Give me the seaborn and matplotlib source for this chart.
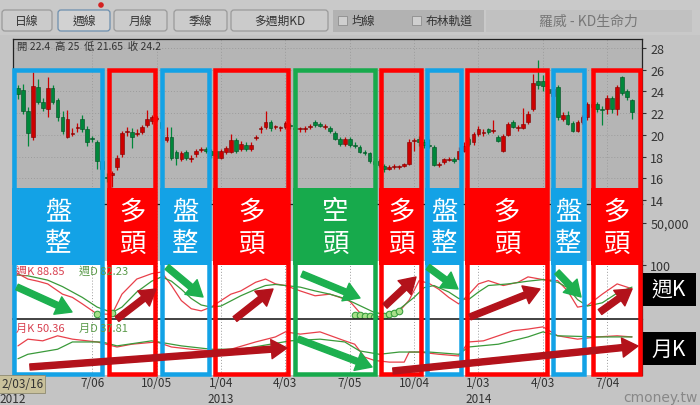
import numpy as np
import pandas as pd
import matplotlib
matplotlib.use("Agg")
import matplotlib.pyplot as plt
import seaborn as sns
from matplotlib.patches import Rectangle, FancyBboxPatch, Circle

# weekly candles, 2012/03/16 .. 2014/08/08 (week index 0..125)
opens = [22.4, 24.3, 24.1, 22.2, 19.8, 24.4, 23.0, 22.4, 24.3, 23.2,
         21.6, 19.8, 20.1, 20.6, 21.5, 20.5, 19.7, 19.3, 17.6, 16.1,
         16.3, 17.0, 18.2, 20.3, 20.3, 20.1, 20.3, 20.9, 21.3, 21.5,
         21.2, 19.5, 19.8, 18.4, 17.8, 18.4, 17.8, 18.2, 18.6, 18.7,
         18.5, 18.5, 17.9, 18.4, 18.4, 19.5, 18.7, 19.1, 18.7, 19.7,
         20.5, 20.7, 21.2, 20.7, 20.6, 20.7, 20.9, 20.6, 20.5, 20.5,
         20.7, 21.2, 21.0, 20.7, 20.6, 20.2, 19.6, 19.2, 19.6, 19.0,
         18.9, 18.4, 18.3, 17.6, 17.6, 17.1, 16.9, 17.0, 17.0, 17.1,
         17.3, 19.4, 19.6, 19.3, 19.1, 18.9, 17.2, 17.5, 17.7, 17.8,
         17.8, 18.5, 19.6, 19.3, 20.1, 20.2, 20.5, 20.4, 19.8, 18.5,
         20.0, 21.2, 20.6, 20.6, 21.2, 22.4, 25.0, 25.0, 24.2, 23.6,
         24.4, 21.5, 21.8, 21.1, 20.4, 21.2, 21.6, 22.8, 22.8, 22.3,
         22.4, 23.4, 22.4, 25.3, 24.0, 23.2]
closes = [24.2, 23.8, 22.2, 20.2, 24.5, 23.0, 22.5, 24.3, 23.0, 21.6,
          20.4, 21.5, 20.2, 20.7, 20.5, 19.3, 19.6, 17.6, 16.9, 16.0,
          16.5, 17.9, 20.2, 20.35, 19.8, 20.2, 20.7, 21.5, 21.6, 21.5,
          20.6, 19.8, 17.9, 17.9, 18.3, 17.9, 17.9, 18.5, 18.7, 18.5,
          18.1, 17.9, 18.5, 18.8, 19.5, 18.5, 19.2, 18.7, 19.1, 19.8,
          20.6, 21.2, 20.6, 20.7, 20.6, 21.1, 20.8, 20.5, 20.5, 20.55,
          20.8, 20.9, 20.85, 20.8, 20.4, 19.6, 19.2, 19.6, 19.1, 18.95,
          18.4, 18.3, 17.6, 17.3, 17.2, 16.9, 17.0, 17.05, 17.05, 17.3,
          19.3, 19.5, 19.3, 19.1, 19.0, 17.2, 17.3, 17.8, 17.8, 17.6,
          18.5, 19.0, 19.2, 20.1, 20.5, 20.25, 20.3, 20.45, 19.4, 19.9,
          21.0, 20.7, 20.65, 21.0, 21.9, 24.8, 24.6, 24.5, 23.9, 24.2,
          21.6, 21.8, 21.0, 20.4, 21.2, 21.6, 22.8, 22.6, 22.4, 22.25,
          23.4, 22.4, 24.4, 23.9, 23.5, 22.1]
highs = [25.0, 24.6, 24.7, 22.6, 25.8, 25.1, 23.4, 25.3, 24.6, 23.4,
         22.2, 22.3, 20.6, 21.1, 21.8, 20.8, 19.9, 19.5, 17.9, 16.5,
         16.7, 18.1, 20.4, 20.7, 20.6, 20.5, 20.9, 22.3, 21.8, 21.7,
         21.4, 20.7, 20.7, 18.6, 18.5, 18.6, 18.1, 18.7, 18.9, 18.9,
         18.7, 18.6, 18.7, 19.0, 20.1, 19.7, 19.4, 19.3, 19.3, 20.0,
         20.8, 22.2, 21.4, 20.9, 20.8, 21.3, 21.1, 20.8, 20.7, 20.8,
         21.0, 21.4, 21.2, 21.0, 20.8, 20.4, 19.8, 19.8, 19.8, 19.3,
         19.1, 18.6, 18.4, 17.8, 17.8, 17.3, 17.2, 17.3, 17.2, 17.4,
         19.6, 19.7, 19.9, 19.6, 19.6, 19.1, 17.5, 17.9, 18.0, 18.0,
         18.9, 19.3, 19.8, 20.3, 20.8, 20.5, 20.6, 21.4, 20.0, 20.1,
         21.2, 21.4, 20.9, 22.5, 22.2, 25.6, 26.9, 25.5, 24.6, 24.6,
         24.6, 22.1, 22.2, 21.3, 21.4, 21.8, 23.0, 23.1, 23.0, 22.7,
         23.7, 23.6, 24.6, 25.4, 24.2, 23.3]
lows = [21.65, 23.3, 21.9, 19.0, 19.5, 22.8, 22.2, 21.6, 22.8, 21.3,
        20.1, 19.7, 19.9, 20.3, 20.3, 19.0, 19.3, 16.9, 16.4, 15.7,
        15.2, 16.8, 18.0, 19.9, 18.8, 19.9, 20.1, 20.7, 21.0, 21.3,
        20.3, 19.3, 17.7, 17.2, 17.6, 17.7, 17.5, 18.0, 18.4, 18.3,
        17.9, 17.7, 17.8, 18.2, 18.3, 18.3, 18.5, 18.5, 18.5, 19.5,
        20.2, 20.5, 20.4, 20.5, 20.4, 20.5, 20.5, 20.2, 20.3, 20.3,
        20.5, 20.7, 20.7, 20.5, 20.2, 19.5, 19.0, 19.0, 18.9, 18.8,
        18.3, 18.1, 17.4, 17.1, 17.0, 16.6, 16.8, 16.9, 16.9, 17.0,
        17.2, 18.5, 19.0, 18.8, 18.8, 17.1, 17.0, 17.3, 17.6, 17.4,
        17.7, 18.4, 19.0, 19.1, 19.9, 19.9, 20.1, 20.2, 19.3, 18.4,
        19.9, 20.6, 20.4, 20.5, 21.0, 22.2, 24.2, 24.0, 23.5, 23.2,
        21.4, 21.3, 20.9, 20.3, 20.3, 21.0, 21.4, 22.2, 22.1, 20.9,
        21.9, 22.0, 21.8, 23.7, 23.2, 21.5]

# weekly KD
wk_idx = [0, 3, 5, 7, 10, 12, 14, 17, 20, 22, 25, 28, 30, 32, 34, 36, 38, 40, 42, 44,
          46, 49, 51, 53, 55, 58, 61, 64, 66, 68, 70, 72, 74, 76, 78, 80, 82, 84, 86, 88,
          90, 92, 94, 96, 99, 102, 104, 107, 110, 112, 114, 116, 119, 122, 124, 125]
wk_k = [89, 74, 70, 65, 46, 40, 28, 9, 9, 46, 74, 84, 87, 62, 34, 19, 15, 22, 34, 46,
        52, 68, 74, 65, 62, 52, 43, 46, 40, 33, 12, 6, 4, 6, 14, 35, 71, 66, 55, 40,
        28, 45, 65, 71, 62, 68, 78, 73, 71, 52, 22, 25, 46, 65, 59, 56]
wd_idx = [0, 3, 7, 10, 14, 17, 20, 22, 25, 28, 30, 32, 34, 36, 38, 40, 42, 46, 49, 51,
          53, 55, 58, 61, 64, 67, 70, 73, 75, 78, 81, 83, 85, 88, 90, 92, 94, 96, 100, 104,
          107, 110, 112, 114, 116, 119, 122, 125]
wk_d = [82, 80, 72, 60, 40, 22, 12, 22, 50, 70, 78, 70, 55, 38, 26, 22, 24, 43, 55, 62,
        64, 62, 59, 52, 46, 38, 25, 12, 9, 18, 40, 58, 62, 50, 38, 36, 50, 62, 65, 70,
        73, 68, 58, 36, 24, 30, 48, 59]
low_idx = [17, 20, 69, 70, 71, 72, 73, 75, 76, 77, 78]
low_val = [9, 12, 8, 7, 6, 5, 4, 6, 9, 12, 15]

# monthly KD
mk_idx = [1, 3, 6, 9, 12, 17, 21, 24, 29, 32, 36, 40, 44, 49, 53, 55, 58, 62, 67, 69,
          71, 73, 76, 79, 80, 82, 86, 90, 92, 95, 98, 101, 104, 107, 110, 114, 118, 122, 125]
mk_k = [52, 64, 61, 70, 64, 59, 50, 55, 59, 50, 46, 43, 46, 59, 68, 77, 73, 77, 61, 55,
        32, 26, 23, 23, 41, 41, 37, 34, 59, 61, 70, 79, 82, 86, 70, 64, 68, 70, 68]
md_idx = [1, 3, 9, 12, 18, 21, 28, 34, 40, 46, 52, 56, 62, 67, 70, 74, 78, 84, 90, 92,
          98, 104, 107, 110, 118, 125]
mk_d = [29, 37, 46, 59, 59, 52, 61, 52, 46, 46, 55, 61, 64, 59, 43, 37, 41, 41, 37, 50,
        55, 68, 77, 70, 68, 68]

tick_idx = [16, 29, 42, 55, 68, 81, 94, 107, 120]
tick_labels = ['7/06', '10/05', '1/04', '4/03', '7/05', '10/04', '1/03', '4/03', '7/04']
year_idx = [0, 42, 94]
year_labels = ['2012', '2013', '2014']

# trend phases (week ranges)
seg_start = [-0.2, 19.0, 29.7, 40.4, 56.5, 73.9, 83.2, 91.3, 108.6, 116.7]
seg_end = [18.4, 29.1, 40.0, 55.9, 73.5, 82.8, 90.9, 108.2, 115.7, 127.0]
seg_label = ['盤整', '多頭', '盤整', '多頭', '空頭', '多頭', '盤整', '多頭', '盤整', '多頭']

sns.set_style("white")
plt.rcParams['font.family'] = ['Noto Sans CJK TC', 'DejaVu Sans']

W, H = 700, 406
X0, PX = 13, 4.952          # pixel of week 0, pixels per week
RED, GRN, DKRED = '#cc0000', '#00873a', '#b3121b'
seg_color = {'盤整': '#13a2e6', '多頭': '#ff0000', '空頭': '#17aa4c'}

fig = plt.figure(figsize=(7, 4.06), dpi=100, facecolor='#c4c4c4')


def add_ax(x0, y0, x1, y1):
    return fig.add_axes([x0 / W, 1 - y1 / H, (x1 - x0) / W, (y1 - y0) / H])


xmax = (642 - X0) / PX
ax_p = add_ax(13, 40, 642, 205)
ax_v = add_ax(13, 205, 642, 262)
ax_w = add_ax(13, 262, 642, 320)
ax_m = add_ax(13, 320, 642, 376)

# candles
idx = np.arange(len(opens))
o, c = np.array(opens), np.array(closes)
cols = np.where(c >= o, RED, GRN)
edges = np.where(c >= o, '#7a0000', '#004a1f')
ax_p.vlines(idx, lows, highs, colors=cols, lw=0.9, zorder=2)
ax_p.bar(idx, np.maximum(np.abs(c - o), 0.09), bottom=np.minimum(o, c), width=0.75,
         color=cols, edgecolor=edges, linewidth=0.4, zorder=3)
ax_p.set_ylim(28 - 165 / 10.857 + 9 / 10.857, 28 + 9 / 10.857)
ax_p.set_yticks(range(14, 29, 2))

ax_v.set_ylim(0, 75000)
ax_v.set_yticks([50000])
ax_v.set_yticklabels(['50,000'])

# KD lines
sns.lineplot(x=wk_idx, y=wk_k, ax=ax_w, color='#e8404a', lw=0.9)
sns.lineplot(x=wd_idx, y=wk_d, ax=ax_w, color='#3a9a3a', lw=0.9)
ax_w.scatter(low_idx, low_val, s=22, facecolor='#a8e08a', edgecolor='#3aa040', lw=0.8, zorder=4)
ax_w.set_ylim(0, 100 * 58 / 54)
ax_w.set_yticks([100])
ax_w.set_yticklabels(['100'])
sns.lineplot(x=mk_idx, y=mk_k, ax=ax_m, color='#e8404a', lw=0.9)
sns.lineplot(x=md_idx, y=mk_d, ax=ax_m, color='#3a9a3a', lw=0.9)
ax_m.set_ylim(0, 100)
ax_m.set_yticks([])

for ax, bg in [(ax_p, '#b5b5b5'), (ax_v, '#b5b5b5'), (ax_w, 'white'), (ax_m, 'white')]:
    ax.set_facecolor(bg)
    ax.set_xlim(0, xmax)
    ax.set_xticks(tick_idx)
    ax.set_xticklabels([])
    ax.yaxis.tick_right()
    ax.tick_params(axis='y', labelsize=9, colors='#333333', length=3, pad=3)
    ax.tick_params(axis='x', length=0)
    ax.grid(axis='x', color='#9c9c9c', ls=(0, (1, 2)), lw=0.7)
    ax.set_xlabel('')
    ax.set_ylabel('')
    for s in ax.spines.values():
        s.set_color('#222222')
        s.set_linewidth(0.9)
    ax.spines['bottom'].set_visible(False)
    ax.set_axisbelow(True)
ax_p.grid(axis='y', color='#9c9c9c', ls=(0, (1, 2)), lw=0.7)
ax_w.spines['top'].set_visible(False)
ax_m.spines['top'].set_linewidth(1.2)
ax_m.set_xticklabels(tick_labels)
ax_m.tick_params(axis='x', labelsize=8.5, colors='#333333', pad=1)

# overlay in pixel coordinates
ov = fig.add_axes([0, 0, 1, 1])
ov.set_xlim(0, W)
ov.set_ylim(H, 0)
ov.axis('off')
ov.set_zorder(10)


def wx(i):
    return X0 + PX * i


for yi, yl in zip(year_idx, year_labels):
    ov.text(max(wx(yi), 12), 400, yl, ha='center', va='center', fontsize=8.5, color='#333333')
ov.text(1, 385, '2/03/16', ha='left', va='center', fontsize=8.5, color='#333333',
        bbox=dict(boxstyle='square,pad=0.2', fc='#c9c19b', ec='#8f8a70', lw=0.6))
ov.text(17, 47, '開 22.4  高 25  低 21.65  收 24.2', ha='left', va='center', fontsize=7.5,
        color='#333333')

# toolbar
ov.add_patch(Rectangle((0, 0), W, 36, fc='#c9c9c9', ec='none'))
ov.add_patch(Rectangle((333, 11), 151, 22, fc='#b2b2b2', ec='none'))
ov.add_patch(Rectangle((486, 11), 206, 22, fc='#c1c1c1', ec='none'))
for x0, x1, t, sel in [(2, 52, '日線', False), (58, 110, '週線', True), (114, 167, '月線', False),
                       (174, 227, '季線', False), (231, 328, '多週期KD', False)]:
    ov.add_patch(FancyBboxPatch((x0, 11), x1 - x0, 21, boxstyle='round,pad=0,rounding_size=3',
                                fc='#d2d2d2' if sel else '#cbcbcb',
                                ec='#6d8fae' if sel else '#9a9a9a', lw=0.9))
    ov.text((x0 + x1) / 2, 21.5, t, ha='center', va='center', fontsize=8.5, color='#333333')
ov.add_patch(Circle((101, 6), 2.8, fc='#d42020', ec='none'))
for bx, t, tx in [(338, '均線', 352), (412, '布林軌道', 426)]:
    ov.add_patch(Rectangle((bx, 17), 9, 9, fc='#cfcfcf', ec='#8d8d8d', lw=0.6))
    ov.text(tx, 21.5, t, ha='left', va='center', fontsize=8.5, color='#333333')
ov.text(588, 22, '羅威 - KD生命力', ha='center', va='center', fontsize=10, color='#777777')

# phase boxes
bw = 4.5
for s, e, lab in zip(seg_start, seg_end, seg_label):
    col = seg_color[lab]
    x0, x1 = wx(s), wx(e)
    ov.add_patch(Rectangle((x0 + bw / 2, 69 + bw / 2), x1 - x0 - bw, 308 - bw, fill=False,
                           ec=col, lw=bw * 0.72, joinstyle='miter'))
    ov.add_patch(Rectangle((x0, 189), x1 - x0, 77, fc=col, ec='none'))
    cx = (x0 + x1) / 2
    ov.text(cx, 212, lab[0], ha='center', va='center', fontsize=19, color='white')
    ov.text(cx, 244, lab[1], ha='center', va='center', fontsize=19, color='white')

ov.text(16, 271, '週K 88.85', ha='left', va='center', fontsize=8, color='#d84050')
ov.text(79, 271, '週D 82.23', ha='left', va='center', fontsize=8, color='#5a9a4a')
ov.text(16, 329, '月K 50.36', ha='left', va='center', fontsize=8, color='#d84050')
ov.text(79, 329, '月D 37.81', ha='left', va='center', fontsize=8, color='#5a9a4a')

# trend arrows
arrows = [((17, 288), (72, 313), '#1db04f'), ((167, 268), (203, 298), '#1db04f'),
          ((302, 275), (360, 299), '#1db04f'), ((298, 340), (372, 368), '#1db04f'),
          ((428, 268), (458, 290), '#1db04f'), ((557, 273), (581, 298), '#1db04f'),
          ((117, 320), (156, 290), DKRED), ((235, 320), (273, 290), DKRED),
          ((30, 368), (287, 349), DKRED), ((385, 307), (416, 278), DKRED),
          ((470, 318), (540, 290), DKRED), ((600, 313), (632, 290), DKRED),
          ((393, 372), (638, 347), DKRED)]
for p0, p1, col in arrows:
    ov.annotate('', xy=p1, xytext=p0,
                arrowprops=dict(arrowstyle='simple,head_width=1.1,head_length=0.9,tail_width=0.35',
                                mutation_scale=12.5, fc=col, ec=col, shrinkA=0, shrinkB=0))

# side tags
for y0, t in [(274, '週K'), (333, '月K')]:
    ov.add_patch(Rectangle((643, y0), 53, 33, fc='black', ec='none'))
    ov.text(669, y0 + 16.5, t, ha='center', va='center', fontsize=15, color='white')

ov.text(660, 398, 'cmoney.tw', ha='center', va='center', fontsize=10, color='#888888',
        family=['DejaVu Sans'])

fig.savefig('out.png', dpi=100, facecolor=fig.get_facecolor())
